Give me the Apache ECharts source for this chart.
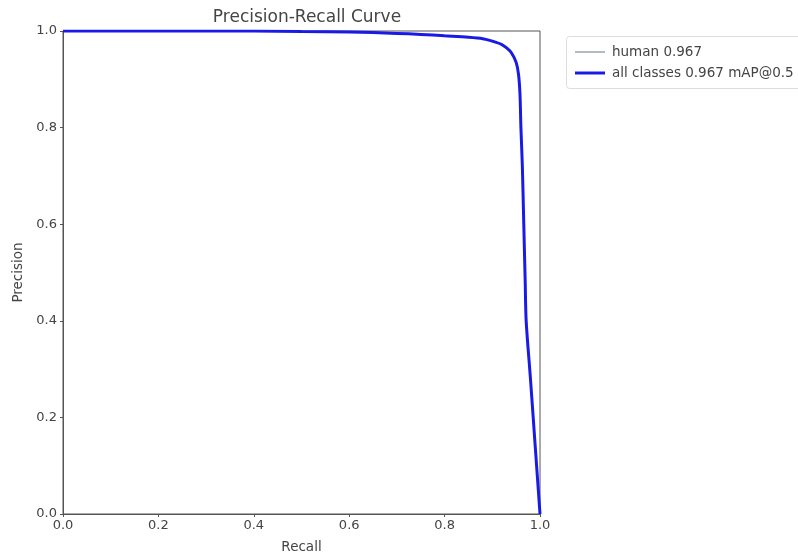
<!DOCTYPE html>
<html>
<head>
<meta charset="utf-8">
<script src="https://cdn.jsdelivr.net/npm/echarts@6/dist/echarts.min.js"></script>
<style>html,body{margin:0;padding:0;background:#fff;}#c{width:798px;height:559px;}</style>
</head>
<body>
<div id="c"></div>
<script>
const recall = [0, 0.1, 0.2, 0.3, 0.4, 0.5, 0.6, 0.7, 0.75, 0.8, 0.85, 0.88, 0.9, 0.92, 0.93, 0.94, 0.95, 0.955, 0.958, 0.96, 0.963, 0.966, 0.969, 0.971, 0.98, 0.99, 1.0];
const precision = [1, 1, 1, 1, 1, 0.999, 0.998, 0.995, 0.993, 0.99, 0.987, 0.984, 0.979, 0.972, 0.965, 0.955, 0.935, 0.91, 0.87, 0.80, 0.72, 0.60, 0.48, 0.40, 0.28, 0.14, 0.0];
const xTicks = [0, 0.2, 0.4, 0.6, 0.8, 1.0];
const seriesNames = ['human 0.967', 'all classes 0.967 mAP@0.5'];

const pts = recall.map((r, i) => [r, precision[i]]);
const font = 'DejaVu Sans';
const txt = '#444';
const chart = echarts.init(document.getElementById('c'), null, {renderer: 'canvas'});
chart.setOption({
  backgroundColor: '#fff',
  animation: false,
  title: {
    text: 'Precision-Recall Curve', left: 302, top: 4, textAlign: 'center',
    textStyle: {fontFamily: font, fontSize: 17, fontWeight: 'normal', color: txt}
  },
  grid: {left: 63, right: 258, top: 31, bottom: 44, show: true, borderColor: '#555', borderWidth: 1, backgroundColor: 'transparent'},
  legend: [
    {
      data: [seriesNames[0]], left: 570, top: 40, orient: 'vertical',
      icon: 'rect', itemWidth: 30, itemHeight: 1.5, itemGap: 8,
      textStyle: {fontFamily: font, fontSize: 13.5, color: txt, padding: [0, 0, 0, 2]}
    },
    {
      data: [seriesNames[1]], left: 570, top: 61, orient: 'vertical',
      icon: 'rect', itemWidth: 30, itemHeight: 3, itemGap: 8,
      textStyle: {fontFamily: font, fontSize: 13.5, color: txt, padding: [0, 0, 0, 2]}
    }
  ],
  graphic: [{
    type: 'rect', left: 566, top: 36, z: -1,
    shape: {width: 260, height: 52, r: 3},
    style: {fill: '#fff', stroke: '#ddd', lineWidth: 1}
  }],
  xAxis: {
    type: 'value', min: 0, max: 1, interval: 0.2,
    name: 'Recall', nameLocation: 'middle', nameGap: 26,
    nameTextStyle: {fontFamily: font, fontSize: 13.5, color: txt},
    axisLine: {show: true, lineStyle: {color: '#555'}},
    axisTick: {show: true, length: 3, lineStyle: {color: '#555'}},
    axisLabel: {fontFamily: font, fontSize: 13, color: txt, margin: 5,
      formatter: v => xTicks.some(t => Math.abs(t - v) < 1e-9) ? v.toFixed(1) : ''},
    splitLine: {show: false}
  },
  yAxis: {
    type: 'value', min: 0, max: 1, interval: 0.2,
    name: 'Precision', nameLocation: 'middle', nameGap: 34, nameRotate: 90,
    nameTextStyle: {fontFamily: font, fontSize: 13.5, color: txt},
    axisLine: {show: true, lineStyle: {color: '#555'}},
    axisTick: {show: true, length: 3, lineStyle: {color: '#555'}},
    axisLabel: {fontFamily: font, fontSize: 13, color: txt, margin: 6, formatter: v => v.toFixed(1)},
    splitLine: {show: false}
  },
  series: [
    {
      name: seriesNames[0], type: 'line', data: pts, showSymbol: false, smooth: 0.3,
      lineStyle: {color: '#9aa3b0', width: 1}, itemStyle: {color: '#9aa3b0'}, z: 3
    },
    {
      name: seriesNames[1], type: 'line', data: pts, showSymbol: false, smooth: 0.3,
      lineStyle: {color: '#1a1ae6', width: 3}, itemStyle: {color: '#1a1ae6'}, z: 4
    }
  ]
});
</script>
</body>
</html>
